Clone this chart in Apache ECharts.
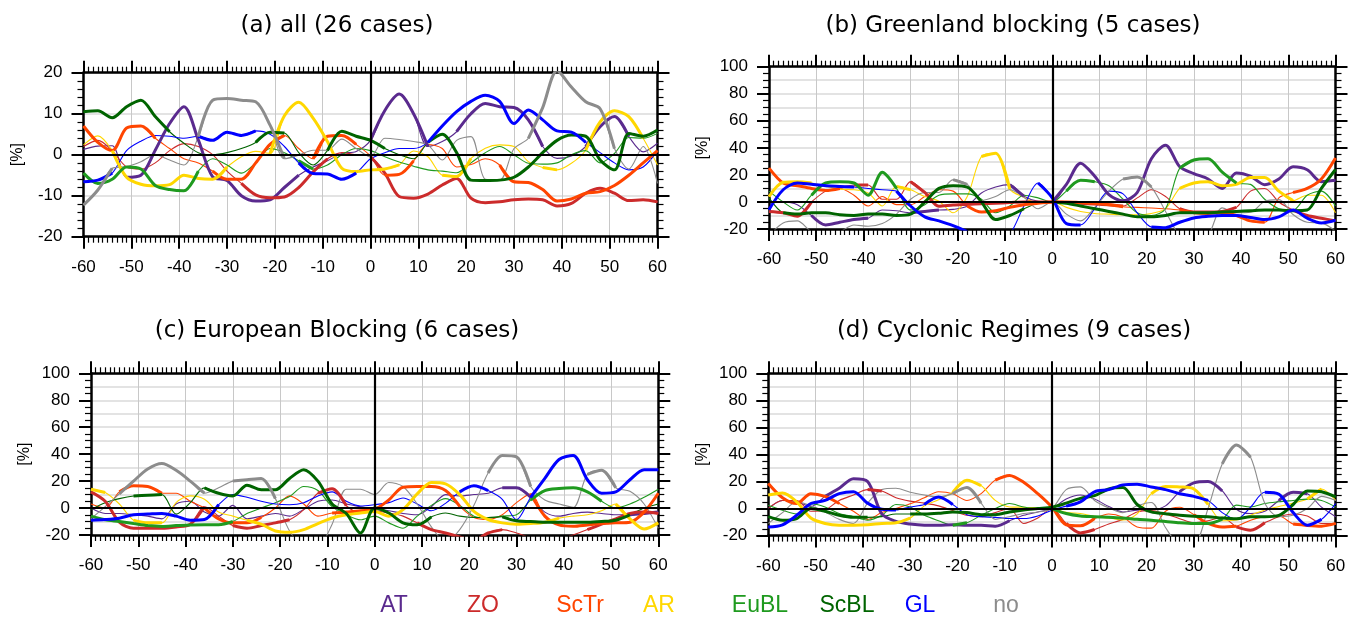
<!DOCTYPE html>
<html><head><meta charset="utf-8">
<script src="https://cdn.jsdelivr.net/npm/echarts/dist/echarts.min.js"></script>
<style>html,body{margin:0;padding:0;background:#fff}#c{width:1354px;height:621px}</style>
</head><body><div id="c"></div>
<script>
// ---------------- DATA ----------------
const days = [-60,-57,-54,-51,-48,-45,-42,-39,-36,-33,-30,-27,-24,-21,-18,-15,-12,-9,-6,-3,0,
              3,6,9,12,15,18,21,24,27,30,33,36,39,42,45,48,51,54,57,60];
const xTicks = [-60,-50,-40,-30,-20,-10,0,10,20,30,40,50,60];
const regimes = ['AT','ZO','ScTr','AR','EuBL','ScBL','GL','no'];
const titles = ['(a) all (26 cases)','(b) Greenland blocking (5 cases)','(c) European Blocking (6 cases)','(d) Cyclonic Regimes (9 cases)'];

// (a) all
const a_AT   = [1.3,2.1,2.2,-5.5,-5,1.1,7.6,11.7,3.6,-5.4,-6.3,-10,-11.3,-11,-8,-5,-3,-1.5,0.3,0.8,3.5, 10.8,14.8,10,2,3.2,5.6,10,12.5,11.7,11.5,8.5,2,-0.9,-0.3,2,6.8,9.3,4.4,0.7,2.8];
const a_ZO   = [2,3.5,1,-3,-3.5,-2,1,2.7,2,0,-4,-7,-9.8,-10.5,-10.3,-8,-4.2,-1,0.5,0,-0.5, -4.5,-10.2,-10.6,-9.6,-7.4,-5.8,-10.6,-11.7,-11.5,-11,-10.8,-11,-12.5,-11.9,-9.4,-8.2,-9.4,-11.2,-11,-11.5];
const a_ScTr = [7,3,1,6.5,7,4,1.5,-1,-2,-4,-6,-6,-2,2.5,4.7,1.5,-1,4.5,4.7,2.5,-0.3, -5,-4.8,-1.5,2.5,1.5,-3,-2.4,-1,-2.5,-6.6,-6.8,-8.5,-11.3,-10.8,-9.4,-9,-7.5,-5,-2,1];
const a_AR   = [2.4,4.6,1,-5.5,-7.2,-7.6,-7.3,-5,-5.8,-6,-3,-0.5,0.8,0.3,9.5,12.8,8.9,3.2,-3.3,-4.1,-3.7, -3.5,-2.5,0.9,-0.5,-5,-5.3,-0.9,1.6,2.4,2,-1.7,-3.1,-3.7,-2.1,1.1,8,10.7,9.3,4,-2.5];
const a_EuBL = [-4.5,-7,-6,-3,-3.5,-7.5,-8.5,-8.8,-4,-1,-2.5,-4.5,-2,1.5,0.5,-1.5,-3.5,-2.5,0,1.5,1, -0.5,-1.8,-2.8,-3.7,-4,-4.4,-2,0.5,2,0,-2.1,-2.3,-2,0,1,-2,0.3,4.2,4,5.2];
const a_ScBL = [10.5,10.7,9,11.7,13.3,9.3,5.6,2.8,0.5,0,0.5,1.5,3,5.5,5.3,0.5,-2.5,1,5.7,4.5,3.5, 1.5,0,-1,3,5,0.5,-6.2,-6.3,-6.2,-5.5,-3,0.5,3.5,4.8,4.5,-1.3,-3.7,5.2,4.5,6];
const a_GL   = [-6.6,-6.2,-4.5,1,3.3,4.7,4.5,4,4.5,3.5,5.5,4.7,5.8,5,2,-2,-4.6,-4.7,-6,-4.5,-1, 0.5,1.5,1.5,3,7,10.5,13,14.5,13,7.6,10.9,8.5,5.8,5.5,3,0.5,-2,-3.7,-3,1];
const a_no   = [-12.3,-8.6,-3.3,-2.9,-1.7,0,-1.3,-2.5,4.4,13.3,13.7,13.3,12.9,7.2,-1,-0.1,1.1,1.1,3.8,1.5,-0.5, 4,3.7,3.2,2.4,-1.3,3.5,4.4,-6,-6.2,1.5,4,11.5,20.5,16.5,12.9,11.2,1.5,-3.5,2,-7];

// (b) Greenland blocking
const b_AT   = [0,0,-2,-10,-17,-15,-13,-12,-6,-6.5,-8,-7,-6,-5.5,-3,6.6,11,12.8,4.2,0.5,0, 13,28.7,19,5.5,0.8,7,32,42,26,21,17,10,21.4,19,12.8,17,26,23.8,15,16];
const b_ZO   = [-7,-8,-10.5,0,8,10.5,12.5,12.5,2,2,15,7,-3.2,-2.3,-1.8,-1.3,-1,-0.5,0,0,0, -0.5,-1,-1.5,-2,-3,3,9,4,-5,-7.5,-7.5,-7,-4,8,10,0,-6,-10,-12,-14];
const b_ScTr = [25,14,12,10,8.5,10,5,-3,4,-2,-2,4,9,8,-3,-7.5,-6.5,-4,-2,-1,0, 0,-0.5,-1,-2,-3.5,-4,-4.5,-5,-6,-8,-8.5,-8,-10,-14,-15,3,7,10,17,32.5];
const b_AR   = [4,14.5,15,14,11.5,9.5,9,6.6,-3,11.5,9,4,0.5,-8,4,33.6,36,9.5,3.4,-1.2,0, -4,-7,-8.5,-9,-9.5,-9.5,-8.5,-5,10,14,15,12,13,18,18,8,1,5,5,-8];
const b_EuBL = [8,0,-6,5,14,15,14,5,22,10,-6,-2,5,6,6,2,-8,-3,5,3,0, 8,16,15,12,2,-8,-10,-5,25,31,32,22,14,13,2,-5,-6,5,8,-3];
const b_ScBL = [3,-8,-9,-8,-8,-9.5,-10,-9,-9,-10,-9,0,10,12,11,0,-13,-10,-5,-1,0, -1,-3,-5,-7,-9,-11,-11,-10,-8,-8,-8,-7.5,-7,-6.5,-6,-6,-6.5,-6,10,24];
const b_GL   = [-5.7,9,14,13,12,11.5,11,10,9,8,-3,-11,-14,-17.5,-22,-28,-30,-24,-3,14,3, -16,-17,-5,8,6,-8,-18.5,-19,-15,-11.8,-10.6,-10,-10,-11.5,-13,-11,-6,-12,-15.5,-13.5];
const b_no   = [-25,-15.5,-14,-22,-24,-22,-17,-18,-16,-9,2,7,7,16.5,13,1,4,9,3.5,-5,0, -9,-14,-4,8,17,18.5,11,-7,-25,-30,-25,-4.4,-8,-7.6,0.5,1.7,-9.3,-15,-15.5,-21.6];

// (c) European Blocking
const c_AT   = [0,-4,-4,-5,-6,-8,3,5,-3,-6,2,-8,-6,-4,-6,-1,5,6,3,1,-1, -2,-4,-5,1,10,9,10,11,15,15,8,-3,-6,-4,-3,-4,-5,-5,-4,-3];
const c_ZO   = [12,5,-10.5,-15,-15,-15,-14,-12,1,-6,-13,-15,-13,-11,-8.7,-1.2,11,14.4,1.7,-3.7,-2, -3.7,-6,-11,-16,-18.5,-21.5,-24,-18.5,-16,-18.5,-22,-24,-23,-20,-16,-12,-8,-4,-3,-4];
const c_ScTr = [3,0,12,16.5,16,11,11,5,0,-8,-11,-11,-7,0,9,3,-6,-3.7,-3,-2,-1, 6,15.5,16,16,13,1.2,-7,-8.5,-5,4,10.5,-6,-12.5,-13.5,-12.5,-11.5,-11,-10.5,-3,11];
const c_AR   = [14,11.5,3,-9,-11,-11,4,9,6.5,-3,-6,-9,-12,-17,-18,-16,-11.5,-7.4,-5,-3.7,-2.5, -6,-1.2,10.5,19,18,10,-2.5,-8.5,-11,-12,-11.5,-10.5,-7.5,-6,-5,-2,3,-8,-15.5,-11];
const c_EuBL = [-6,-8.7,-10,-11.5,-13,-13.6,-13,-12.5,-12.4,-12.4,-10,-4,0,4,8.5,16,13,1,-5,-8.7,-6, -11,-15,-6,2,7,2,-6,-7.4,-6,-5,6,13,14.5,15,12,5,0,3,8,14];
const c_ScBL = [-1,4,7,9,9.5,10,-4.5,4,15,11,9,17,13.6,13.6,22,28.5,20,3,-4,-18.5,0, -3.7,-11,-12.4,-6.5,-3.7,-6,-7,-7,-6.5,-9.5,-10,-10.5,-10.5,-10.5,-10.5,-10,-9,-5,0,3];
const c_GL   = [-9,-8.5,-7.5,-5,-4.5,-4,-6,-9,-8.5,2.5,10,8,5,3,2.5,4,9,12,5,1.5,2.5, 4,7.5,3,-2,3.5,12,16.5,13,6.5,-8.7,8,22,36,39,21,11,12,21,28.5,28.5];
const c_no   = [-8,1,10.6,20,29,33,28,20,11,15,20,21,22,7,-17,-28,-28,-12,14,14,10, 19,16,3,-14,-25,-16,2,26,39,38,16,6,3,0.5,25,28,15,12.4,3,-15];

// (d) Cyclonic Regimes
const d_AT   = [0,6,5,1.5,9,15,22,20,-4,-9.5,-11.5,-12.3,-12.3,-12,-12.3,-12.3,-13,-9,-5,-2.5,0, 7,10,7,1.5,-2.5,-1.2,-1,2,12.5,19,20,13,-0.5,-3.7,-2,6,12,11,1,-6];
const d_ZO   = [0,6,6,-2,-1,6,10,14,13,8,5.5,4,2,-1.5,-5,-6,-3,0,-11,-7,0, -11,-18,-15.5,-11.5,-8,-2.5,-1.5,-4,-7.5,-10.5,-9,-6.5,-13.5,-16,-10.5,-6,-4,-5.5,-11,-11];
const d_ScTr = [18.5,8,3.7,11,9,3.7,-2,-8,-3,0,3.5,8,12.4,11,6,11,21,24.5,19.5,11,1, -12,-12.8,-7.4,-4,-6.5,-13.6,-14.5,-2,1,-4.5,-11,-13.6,-13,-8.6,-6,-5.5,-11.5,-12.5,-13,-11];
const d_AR   = [10,11.5,5,-7,-11,-12.3,-12.3,-12,-11,-10.5,-7,2,6.5,12,21,17,6,1.2,1,0.5,0, -2.7,-3.7,-5.7,-7,-8.5,-4,11,16.3,16,14.5,3,-9,-8.5,-5,-1,1.5,4,7,14.5,6];
const d_EuBL = [2.5,-1.2,-4,3.5,1.2,-3.7,-6,-8.6,-5,3,1.2,-5,-9,-12.3,-10.5,-5,0,3.7,1.2,0,0, -3.7,-5.5,-6,-6.5,-7,-8,-8.6,-9.5,-10.5,-11,-11,-8,2.5,1.2,3.7,5,6,7,6,1.2];
const d_ScBL = [-6,-8.6,-7.4,0,-2,-5,-6.5,-6.5,-6,-4,-4,-4,-3.5,-2.5,-3,-4.5,-4.5,-2.5,-1,0,1, 4,7.5,9.5,14.5,15.5,3,-2.5,-3.8,-5,-5.7,-6,-7,-7.5,-6,-6,-5,3,13,12.4,8.6];
const d_GL   = [-13.6,-12,-5,3.7,6,11,12.5,4,-0.5,-1,1.2,3,8.5,3,-4.5,-6,-6.5,-7.4,-7.4,-5.5,-1.2, 1.8,5,12.4,14,17.5,18,16,14,11,9,6,-3,-8,1,12,10.5,-3,-12.3,-8,3.7];
const d_no   = [-11,-3,5,2,-2.5,-8,-11,4,14,15,12,10,8.5,11,15.5,4,-8,-6,-3.7,-2.5,0, 14,16,6,0.5,-3,2,4.5,-14,-26,-26,0,33,47,38,4,-6,-5,0,9,6];

// significant (thick) day ranges, per regime in the order of `regimes`
const sigA = [[[-52,-14],[0,11],[17,35],[45,55]], [[-28,-10],[1,60]], [[-60,-57],[-53,-46],[-34,-19],[-11,-4],[2,8],[27,60]],
  [[-53,-30],[-21,-8],[-5,6],[14,22],[36,40],[46,58]], [[-60,-52],[-47,-37],[-14,-11]], [[-60,-43],[-25,-17],[-8,2],[12,16],[19,60]],
  [[-60,-54],[-35,-23],[-14,-4],[12,46]], [[-60,-53],[-35,-19],[32,50]]];
const sigB = [[[-50,-38],[-31,-25],[-10,-6],[0,60]], [[-60,-52],[-43,-38],[-31,-28],[-24,15],[27,40],[50,60]], [[-60,-45],[-17,16],[27,46],[52,60]],
  [[-59,-52],[-34,-30],[-16,-8],[27,50]], [[-50,-43],[-38,-33],[3,10],[26,40]], [[-57,-42],[-40,-30],[-26,-18],[-14,-5],[0,60]],
  [[-60,-41],[-32,-18],[-4,-1],[1,7],[20,60]], [[-22,-17],[15,20]]];
const sigC = [[[26,32],[55,60]], [[-60,-36],[-30,-18],[-12,-7],[8,26],[45,60]], [[-54,-45],[-35,-24],[-9,0],[3,18],[34,60]],
  [[-60,-56],[-51,-44],[-28,0],[4,38],[52,60]], [[-60,-30],[33,47]], [[-52,-45],[-37,-2],[0,12],[27,55]],
  [[-60,-34],[18,24],[34,60]], [[-54,-36],[-31,-22],[23,32],[44,50]]];
const sigD = [[[-48,-36],[-33,-9],[27,36],[48,54]], [[-40,-36],[2,10],[38,44]], [[-60,-46],[-12,-2],[1,8],[30,40],[50,60]],
  [[-60,-55],[-51,-31],[-21,-15],[20,32],[54,58]], [[-22,-18],[0,36]], [[-60,-40],[-30,0],[3,17],[20,60]],
  [[-60,-34],[-26,-22],[3,33],[44,56]], [[-20,-14],[35,43]]];

// ---------------- STYLE / LAYOUT ----------------
const colors = ['#5a2a8e','#cc2b2b','#ff4500','#ffd700','#1f9a1f','#006400','#0000ff','#8c8c8c'];
const panels = [
  {data:[a_AT,a_ZO,a_ScTr,a_AR,a_EuBL,a_ScBL,a_GL,a_no], sig:sigA, yMin:-20, yMax:20, yStep:10, yMinor:5,
   grid:{left:83.5, top:72.7, width:574, height:164}, title:[337,26]},
  {data:[b_AT,b_ZO,b_ScTr,b_AR,b_EuBL,b_ScBL,b_GL,b_no], sig:sigB, yMin:-20, yMax:100, yStep:20, yMinor:4,
   grid:{left:769, top:66.7, width:566.5, height:162.3}, title:[1013,26]},
  {data:[c_AT,c_ZO,c_ScTr,c_AR,c_EuBL,c_ScBL,c_GL,c_no], sig:sigC, yMin:-20, yMax:100, yStep:20, yMinor:4,
   grid:{left:91, top:373.3, width:567.3, height:161.7}, title:[337,331]},
  {data:[d_AT,d_ZO,d_ScTr,d_AR,d_EuBL,d_ScBL,d_GL,d_no], sig:sigD, yMin:-20, yMax:100, yStep:20, yMinor:4,
   grid:{left:768.3, top:373.3, width:567.4, height:162.3}, title:[1014,331]}
];
const legendX = [394,483,580,659,760,847,920,1006];
const legendY = 606;

const TICKFONT = 'Liberation Sans';
function inSig(d, ranges){ return ranges.some(r => d >= r[0]-1.5 && d <= r[1]+1.5); }

const grids=[], xAxes=[], yAxes=[], series=[], graphics=[];
panels.forEach((p, pi) => {
  grids.push(Object.assign({containLabel:false, outerBoundsMode:'none'}, p.grid));
  const axLine = {show:true, onZero:false, lineStyle:{color:'#000', width:2.5}};
  const tick = {show:true, length:12, lineStyle:{color:'#000', width:2}};
  const xCommon = {gridIndex:pi, type:'value', min:xTicks[0], max:xTicks[xTicks.length-1], interval:xTicks[1]-xTicks[0],
    axisLine:axLine, axisTick:tick, minorTick:{show:true, splitNumber:10, length:6, lineStyle:{color:'#000', width:1.2}}};
  xAxes.push(Object.assign({}, xCommon, {position:'bottom',
    axisLabel:{show:true, color:'#000', fontSize:17, fontFamily:TICKFONT, margin:22},
    splitLine:{show:true, lineStyle:{color:'#c8c8c8', width:1}}}));
  xAxes.push(Object.assign({}, xCommon, {position:'top', axisLabel:{show:false}, splitLine:{show:false}}));
  const yCommon = {gridIndex:pi, type:'value', min:p.yMin, max:p.yMax, interval:p.yStep,
    axisLine:axLine, axisTick:tick, minorTick:{show:true, splitNumber:p.yMinor, length:6, lineStyle:{color:'#000', width:1.2}},
    splitLine:{show:false}};
  yAxes.push(Object.assign({}, yCommon, {position:'left',
    axisLabel:{show:true, color:'#000', fontSize:17, fontFamily:TICKFONT, margin:21},
    name:'[%]', nameLocation:'middle', nameGap:58, nameRotate:90,
    nameTextStyle:{color:'#000', fontSize:16, fontFamily:TICKFONT}}));
  yAxes.push(Object.assign({}, yCommon, {position:'right', axisLabel:{show:false}}));
  yAxes.push({gridIndex:pi, type:'value', min:p.yMin, max:p.yMax, interval:10, position:'left',
    axisLine:{show:false}, axisTick:{show:false}, axisLabel:{show:false},
    splitLine:{show:true, lineStyle:{color:'#dadada', width:1.5}}, z:0});
  const xi = 2*pi, yi = 3*pi;
  // zero reference lines
  series.push({type:'line', xAxisIndex:xi, yAxisIndex:yi, data:[[0,0]], symbol:'none', lineStyle:{opacity:0}, silent:true, z:2,
    markLine:{silent:true, symbol:'none', label:{show:false}, animation:false,
      lineStyle:{color:'#000', width:2.2, type:'solid'}, data:[{yAxis:0},{xAxis:0}]}});
  regimes.forEach((r, ri) => {
    const vals = p.data[ri];
    series.push({type:'line', name:r, xAxisIndex:xi, yAxisIndex:yi, symbol:'none', smooth:0.3, silent:true, z:3,
      data: days.map((d,k) => [d, vals[k]]), lineStyle:{color:colors[ri], width:1.1}});
  });
  regimes.forEach((r, ri) => {
    const vals = p.data[ri];
    series.push({type:'line', name:r, xAxisIndex:xi, yAxisIndex:yi, symbol:'none', smooth:0.3, silent:true, z:4,
      data: days.map((d,k) => inSig(d, p.sig[ri]) ? [d, vals[k]] : [d, '-']), lineStyle:{color:colors[ri], width:3}});
  });
  graphics.push({type:'text', x:p.title[0], y:p.title[1], silent:true,
    style:{text:titles[pi], fill:'#000', font:'23px "DejaVu Sans"', textAlign:'center', textVerticalAlign:'middle', align:'center', verticalAlign:'middle'}});
});
regimes.forEach((r, ri) => {
  graphics.push({type:'text', x:legendX[ri], y:legendY, silent:true,
    style:{text:r, fill:colors[ri], font:'23px "Liberation Sans"', textAlign:'center', textVerticalAlign:'middle', align:'center', verticalAlign:'middle'}});
});

const chart = echarts.init(document.getElementById('c'));
chart.setOption({animation:false, backgroundColor:'#fff', grid:grids, xAxis:xAxes, yAxis:yAxes, series:series, graphic:graphics});
</script></body></html>
